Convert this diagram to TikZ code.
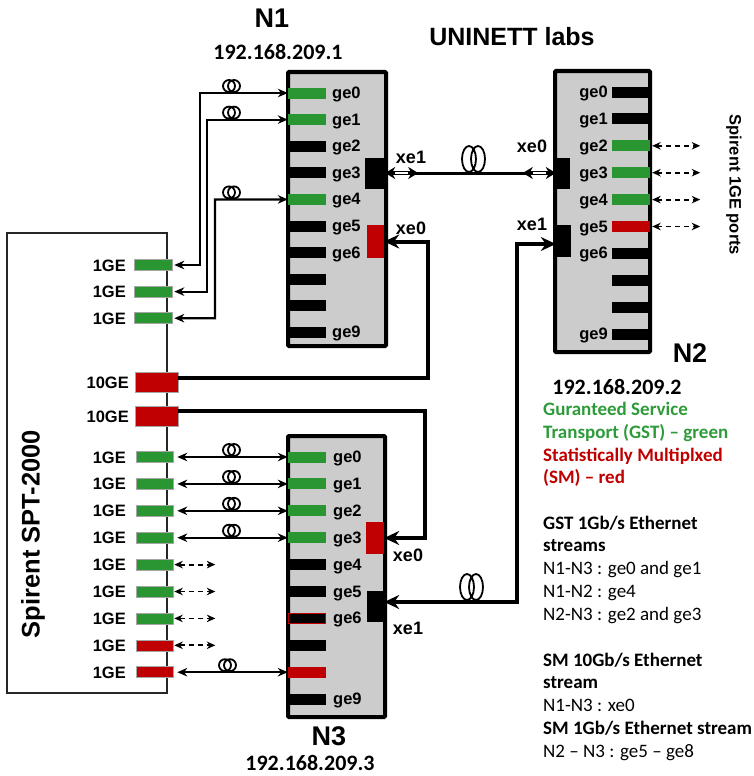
\documentclass[tikz,border=0pt]{standalone}
\usepackage{fontspec}
\setmainfont{Liberation Sans}
\newfontfamily\calfont{Carlito}
\usetikzlibrary{arrows.meta}
\definecolor{pgreen}{RGB}{42,150,50}
\definecolor{pred}{RGB}{192,0,0}
\definecolor{boxgray}{RGB}{204,204,204}
\definecolor{tgreen}{RGB}{46,155,58}
\begin{document}
\begin{tikzpicture}[x=1pt,y=-1pt,
  nodebox/.style={draw=black,line width=4pt,fill=boxgray,rounded corners=1pt,inner sep=0pt},
  pbar/.style={inner sep=0pt,minimum width=38pt,minimum height=11pt},
  gbar/.style={pbar,fill=pgreen},
  kbar/.style={pbar,fill=black},
  rbar/.style={pbar,fill=pred},
  sbar/.style={inner sep=0pt,minimum width=38pt,minimum height=11pt,draw=black!35,line width=0.6pt},
  blk/.style={inner sep=0pt},
  glab/.style={font=\bfseries\fontsize{16.5}{16.5}\selectfont,inner sep=0pt},
  xlab/.style={font=\bfseries\fontsize{18}{18}\selectfont,inner sep=0pt},
  biglab/.style={font=\bfseries\fontsize{27}{27}\selectfont,inner sep=0pt},
  iplab/.style={font=\calfont\bfseries\fontsize{22}{22}\selectfont,inner sep=0pt},
  leg/.style={font=\calfont\fontsize{19}{19}\selectfont,inner sep=0pt,anchor=base west},
  legb/.style={leg,font=\calfont\bfseries\fontsize{19}{19}\selectfont},
  conn/.style={line width=2.2pt},
  fat/.style={line width=4pt},
  tipS/.tip={Stealth[length=10pt,width=8.5pt]},
  tipB/.tip={Stealth[length=15pt,width=14pt,inset=5pt]},
  tipM/.tip={Stealth[length=10pt,width=12pt]},
  tipD/.tip={Stealth[length=8.5pt,width=7.5pt]},
  dsh/.style={line width=1.8pt,dash pattern=on 5pt off 4pt,tipD-tipD},
  fibre/.style={line width=1.8pt}
]
\useasboundingbox (0,0) rectangle (754,776);

% ---------- Spirent box ----------
\node[draw=black!85,line width=1.2pt,inner sep=0pt,minimum width=160pt,minimum height=460pt] (SPT) at (87,463) {};
\node[font=\bfseries\fontsize{25.5}{25.5}\selectfont,rotate=90,inner sep=0pt] (SPTt) at (33,534) {Spirent SPT-2000};
\foreach \i in {0,1,2} {
  \node[sbar,fill=pgreen] (su\i) at (153,{265+26.6*\i}) {};
  \node[glab,anchor=base east] (sut\i) at (126,{271+26.6*\i}) {1GE};
}
\node[sbar,fill=pred,minimum width=43pt,minimum height=20pt] (sa) at (156.5,382) {};
\node[sbar,fill=pred,minimum width=43pt,minimum height=20pt] (sb) at (156.5,416) {};
\node[glab,anchor=base east] (sat) at (129,388) {10GE};
\node[glab,anchor=base east] (sbt) at (129,422) {10GE};
\foreach \i/\c in {0/pgreen,1/pgreen,2/pgreen,3/pgreen,4/pgreen,5/pgreen,6/pgreen,7/pred,8/pred} {
  \node[sbar,fill=\c,minimum width=37pt] (sl\i) at (154.5,{457+26.9*\i}) {};
  \node[glab,anchor=base east] (slt\i) at (126,{463+26.9*\i}) {1GE};
}

% ---------- N1 ----------
\node[nodebox,minimum width=98pt,minimum height=274pt] (N1) at (337,209) {};
\foreach \i/\s in {0/gbar,1/gbar,2/kbar,3/kbar,4/gbar,5/kbar,6/kbar,7/kbar,8/kbar,9/kbar}
  \node[\s] (n1g\i) at (307,{93+26.6*\i}) {};
\foreach \i in {0,1,2,3,4,5,6,9}
  \node[glab,anchor=base west] (n1t\i) at (332,{98.5+26.6*\i}) {ge\i};
\node[blk,fill=black,minimum width=20pt,minimum height=31pt] (n1x1) at (375,173) {};
\node[blk,fill=pred,minimum width=17pt,minimum height=33pt] (n1x0) at (375.5,241.5) {};
\node[xlab] (n1x1t) at (411,157) {xe1};
\node[xlab] (n1x0t) at (411,228) {xe0};

% ---------- N2 ----------
\node[nodebox,minimum width=95pt,minimum height=281pt] (N2) at (602.5,211.5) {};
\foreach \i/\s in {0/kbar,1/kbar,2/gbar,3/gbar,4/gbar,5/rbar,6/kbar,7/kbar,8/kbar,9/kbar}
  \node[\s] (n2g\i) at (631,{92+26.9*\i}) {};
\foreach \i in {0,1,2,3,4,5,6,9}
  \node[glab,anchor=base east] (n2t\i) at (608,{97.5+26.9*\i}) {ge\i};
\node[blk,fill=black,minimum width=14pt,minimum height=31pt] (n2x0) at (563,173) {};
\node[blk,fill=black,minimum width=15pt,minimum height=32pt] (n2x1) at (563.5,241) {};
\node[xlab] (n2x0t) at (532,146) {xe0};
\node[xlab] (n2x1t) at (532,224) {xe1};

% ---------- N3 ----------
\node[nodebox,minimum width=97pt,minimum height=281pt] (N3) at (336.5,576.5) {};
\foreach \i/\s in {0/gbar,1/gbar,2/gbar,3/gbar,4/kbar,5/kbar,7/kbar,8/rbar,9/kbar}
  \node[\s] (n3g\i) at (307,{457+26.9*\i}) {};
\node[kbar,draw=pred,line width=0.8pt,minimum width=37pt,minimum height=10pt] (n3g6) at (307,{457+26.9*6}) {};
\foreach \i in {0,1,2,3,4,5,6,9}
  \node[glab,anchor=base west] (n3t\i) at (333,{462.5+26.9*\i}) {ge\i};
\node[blk,fill=pred,minimum width=18pt,minimum height=32pt] (n3x0) at (375,538) {};
\node[blk,fill=black,minimum width=17pt,minimum height=31pt] (n3x1) at (375.5,606.5) {};
\node[xlab] (n3x0t) at (408,555) {xe0};
\node[xlab] (n3x1t) at (408,628) {xe1};

% ---------- Spirent -> N1 ----------
\draw[conn,tipS-tipS,shorten <=2pt] (su0.east) -| (200,93) -- (n1g0.west);
\draw[conn,tipS-tipS,shorten <=2pt] (su1.east) -| (207,119.6) -- (n1g1.west);
\draw[conn,tipS-tipS,shorten <=2pt] (su2.east) -| (215,199.4) -- (n1g4.west);
\draw[fibre] (229,86) circle[radius=6pt] (234,86) circle[radius=6pt];
\draw[fibre] (229,112.6) circle[radius=6pt] (234,112.6) circle[radius=6pt];
\draw[fibre] (229,192.4) circle[radius=6pt] (234,192.4) circle[radius=6pt];

% ---------- Spirent -> N3 ----------
\foreach \i in {0,1,2,3} {
  \draw[conn,tipS-tipS,shorten <=4pt] (sl\i.east) -- (n3g\i.west);
  \draw[fibre] (229,{450+26.9*\i}) circle[radius=6pt] (234,{450+26.9*\i}) circle[radius=6pt];
}
\draw[conn,tipS-tipS,shorten <=4pt] (sl8.east) -- (n3g8.west);
\draw[fibre] (225,{450+26.9*8}) circle[radius=6pt] (230,{450+26.9*8}) circle[radius=6pt];
\foreach \i in {4,5,6,7}
  \draw[dsh,shorten <=1pt] (sl\i.east) -- ++(42,0);

% ---------- N2 dashed to Spirent ----------
\foreach \i in {2,3,4,5}
  \draw[dsh,shorten <=2pt] (n2g\i.east) -- ++(50,0);
\node[glab,rotate=-90] (s1ge) at (734,185) {Spirent 1GE ports};

% ---------- N1 xe1 <-> N2 xe0 ----------
\draw[line width=3pt] (n1x1.east) -- (n2x0.west);
\draw[line width=4.5pt,tipM-tipM] (n1x1.east) -- ++(33,0);
\draw[white,line width=1.8pt] ([xshift=10pt]n1x1.east) -- ([xshift=23pt]n1x1.east);
\draw[line width=4.5pt,tipM-tipM] (n2x0.west) -- ++(-33,0);
\draw[white,line width=1.8pt] ([xshift=-10pt]n2x0.west) -- ([xshift=-23pt]n2x0.west);
\draw[fibre] (469,159) ellipse[x radius=7pt,y radius=13pt] (478,159) ellipse[x radius=7pt,y radius=13pt];

% ---------- 10GE links ----------
\draw[fat,-tipB] ([yshift=4pt]sa.east) -| (428,241.5) -- (n1x0.east);
\draw[fat,-tipB] ([yshift=5pt]sb.east) -| (425,538) -- (n3x0.east);
\draw[fat,tipB-tipB] ([yshift=4.5pt]n3x1.east) -| (517,244) -- ([yshift=-3pt]n2x1.west);
\draw[fibre] (467,587) ellipse[x radius=7pt,y radius=13pt] (476,587) ellipse[x radius=7pt,y radius=13pt];

% ---------- titles ----------
\node[biglab] (t1) at (272,18) {N1};
\node[iplab] (ip1) at (278,52) {192.168.209.1};
\node[font=\bfseries\fontsize{25}{25}\selectfont,inner sep=0pt] (title) at (512,37) {UNINETT labs};
\node[biglab] (t2) at (690,353) {N2};
\node[iplab] (ip2) at (617,387) {192.168.209.2};
\node[biglab] (t3) at (329,736) {N3};
\node[iplab] (ip3) at (310,763) {192.168.209.3};

% ---------- legend ----------
\node[legb,text=tgreen] (l1) at (543,415) {Guranteed Service};
\node[legb,text=tgreen] (l2) at (543,438) {Transport (GST) – green};
\node[legb,text=pred] (l3) at (543,461) {Statistically Multiplxed};
\node[legb,text=pred] (l4) at (543,483) {(SM) – red};
\node[legb] (l5) at (543,529) {GST 1Gb/s Ethernet};
\node[legb] (l6) at (543,551) {streams};
\node[leg] (l7) at (543,574) {N1-N3 : ge0 and ge1};
\node[leg] (l8) at (543,597) {N1-N2 : ge4};
\node[leg] (l9) at (543,620) {N2-N3 : ge2 and ge3};
\node[legb] (l10) at (543,666) {SM 10Gb/s Ethernet};
\node[legb] (l11) at (543,688) {stream};
\node[leg] (l12) at (543,711) {N1-N3 : xe0};
\node[legb] (l13) at (543,734) {SM 1Gb/s Ethernet stream};
\node[leg] (l14) at (543,757) {N2 – N3 : ge5 – ge8};
\end{tikzpicture}
\end{document}
